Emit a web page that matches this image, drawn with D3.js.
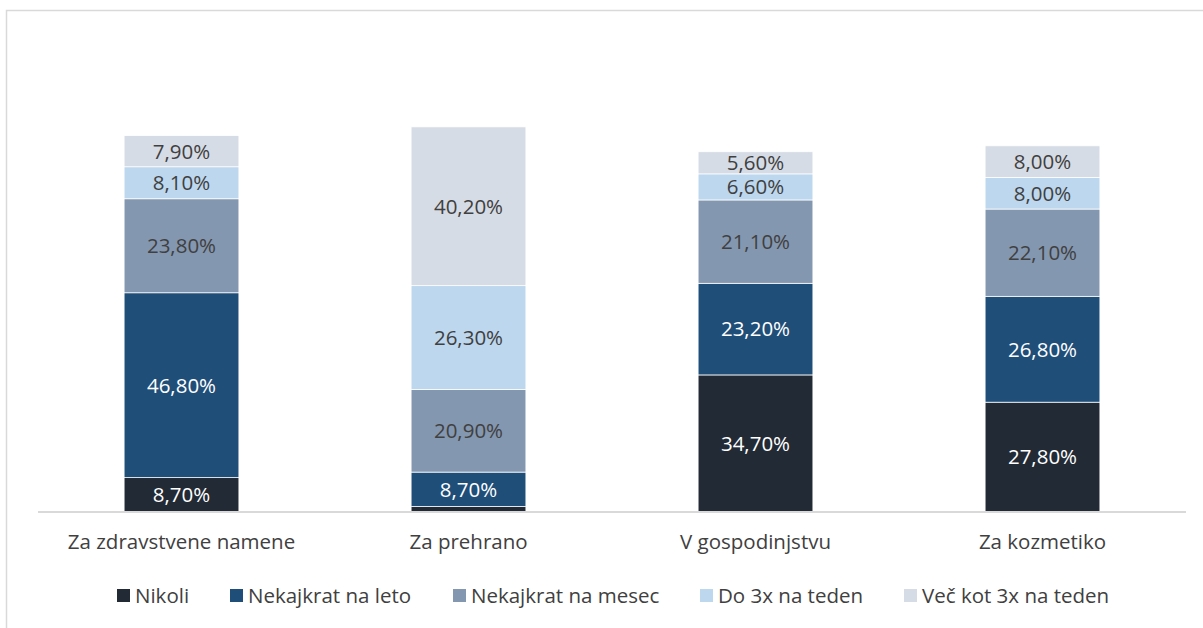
<!DOCTYPE html>
<html lang="sl">
<head>
<meta charset="UTF-8">
<script src="https://cdn.jsdelivr.net/npm/d3@7"></script>
<style>
    body { margin: 0; background: #fff; }
    svg { display: block; font-family: "Open Sans", sans-serif; }
</style>
</head>
<body>
<script>
    // categories and series
    const categories = ["Za zdravstvene namene", "Za prehrano", "V gospodinjstvu", "Za kozmetiko"];
    const seriesNames = ["Nikoli", "Nekajkrat na leto", "Nekajkrat na mesec", "Do 3x na teden", "Več kot 3x na teden"];
    const nikoli = [8.7, 1.4, 34.7, 27.8];
    const naLeto = [46.8, 8.7, 23.2, 26.8];
    const naMesec = [23.8, 20.9, 21.1, 22.1];
    const do3x = [8.1, 26.3, 6.6, 8.0];
    const vecKot3x = [7.9, 40.2, 5.6, 8.0];
    const colors = ["#222a35", "#1f4e79", "#8497b0", "#bdd7ee", "#d6dce5"];
    const labelColors = ["#ffffff", "#ffffff", "#404040", "#404040", "#404040"];
    // the smallest segment has no label in the original
    const minLabel = 3;

    const allSeries = [nikoli, naLeto, naMesec, do3x, vecKot3x];
    const rows = categories.map((c, i) => {
        const r = { cat: c };
        seriesNames.forEach((s, j) => r[s] = allSeries[j][i]);
        return r;
    });
    const stacked = d3.stack().keys(seriesNames)(rows);

    const W = 1203, H = 628;
    const fs = 20.5;
    const svg = d3.select("body").append("svg").attr("width", W).attr("height", H);

    // chart frame
    svg.append("rect")
        .attr("x", 6.5).attr("y", 10.5)
        .attr("width", 1300).attr("height", 800)
        .attr("fill", "none").attr("stroke", "#d9d9d9").attr("stroke-width", 1.5);

    const x = d3.scaleBand().domain(categories).range([38, 1186]).paddingInner(0.6).paddingOuter(0.3);
    const y = d3.scaleLinear().domain([0, 100]).range([512, 117]);

    const groups = svg.selectAll("g.series")
        .data(stacked)
        .enter().append("g")
        .attr("class", "series")
        .attr("fill", (d, i) => colors[i]);

    groups.selectAll("rect")
        .data(d => d)
        .enter().append("rect")
        .attr("x", d => x(d.data.cat))
        .attr("y", d => y(d[1]))
        .attr("width", x.bandwidth())
        .attr("height", d => y(d[0]) - y(d[1]))
        .attr("stroke", "#ffffff")
        .attr("stroke-width", 0.75);

    // data labels
    const fmt = v => v.toFixed(2).replace(".", ",") + "%";
    stacked.forEach((s, i) => {
        svg.append("g").selectAll("text")
            .data(s.filter(d => d[1] - d[0] >= minLabel))
            .enter().append("text")
            .attr("x", d => x(d.data.cat) + x.bandwidth() / 2)
            .attr("y", d => (y(d[0]) + y(d[1])) / 2)
            .attr("dy", "0.36em")
            .attr("text-anchor", "middle")
            .attr("font-size", fs)
            .attr("fill", labelColors[i])
            .text(d => fmt(d[1] - d[0]));
    });

    // x axis
    const xAxis = svg.append("g")
        .attr("transform", "translate(0,512)")
        .call(d3.axisBottom(x).tickSize(0).tickPadding(22));
    xAxis.select(".domain").attr("stroke", "#d9d9d9").attr("stroke-width", 2)
        .attr("d", "M38,0H1186");
    xAxis.selectAll("text")
        .attr("font-family", "Open Sans, sans-serif")
        .attr("font-size", fs)
        .attr("fill", "#404040");

    // legend
    const legendX = [117, 230, 453, 700, 904];
    const legend = svg.append("g").attr("transform", "translate(0,596)");
    seriesNames.forEach((s, i) => {
        const g = legend.append("g").attr("transform", `translate(${legendX[i]},0)`);
        g.append("rect").attr("x", 0).attr("y", -7).attr("width", 13).attr("height", 13).attr("fill", colors[i]);
        g.append("text").attr("x", 18).attr("dy", "0.35em")
            .attr("font-size", fs).attr("fill", "#404040").text(s);
    });
</script>
</body>
</html>
